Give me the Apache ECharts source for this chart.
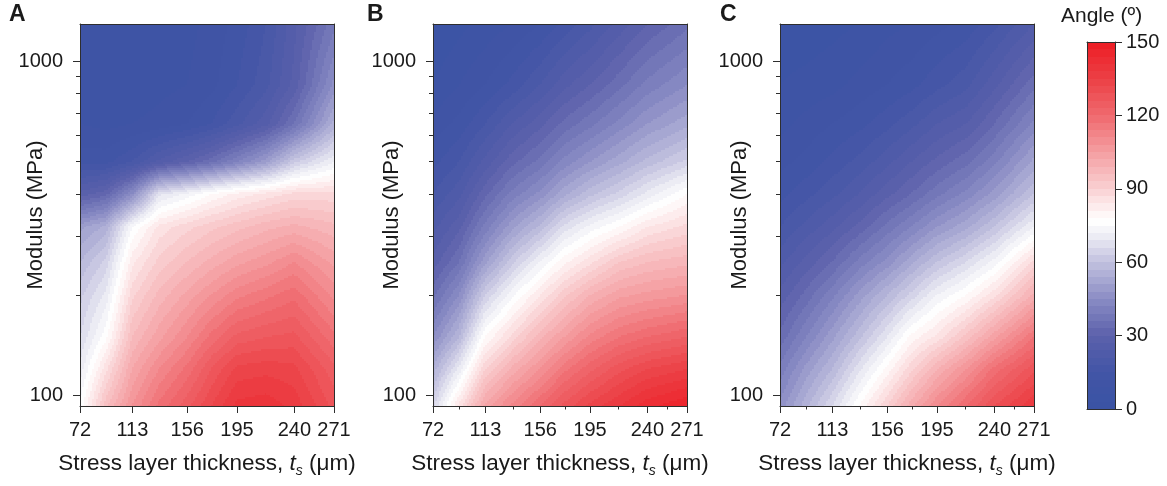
<!DOCTYPE html>
<html><head><meta charset="utf-8">
<script src="https://cdn.jsdelivr.net/npm/echarts@6/dist/echarts.min.js"></script>
<style>html,body{margin:0;padding:0;background:#fff}#c{width:1167px;height:486px}</style>
</head><body><div id="c"></div>
<script>
// ---- data ----
const thickness = [72, 92, 113, 134, 156, 175, 195, 218, 240, 271];      // µm (columns)
const modulus = [93, 120, 150, 200, 250, 320, 400, 500, 650, 850, 1290];  // MPa (rows, bottom -> top)
const xTickLabels = [72, 113, 156, 195, 240, 271];
const xMinorTicks = [92.5, 134.5, 175.5, 217.5, 255.5];
const yTickLabels = [100, 1000];
const yMinorTicks = [200, 300, 400, 500, 600, 700, 800, 900];
const angleTicks = [0, 30, 60, 90, 120, 150];
// angle (deg): one line per thickness, values along modulus rows
const angleA = [
  [76, 70, 66, 62, 57, 50, 28, 14, 9, 7, 7],
  [95, 86, 77, 70, 64, 55, 32, 14, 8, 7, 6],
  [108, 102, 96, 89, 83, 75, 45, 18, 9, 7, 6],
  [118, 111, 104, 97, 91, 85, 68, 25, 10, 8, 7],
  [125, 118, 111, 103, 96, 89, 73, 30, 12, 9, 8],
  [132, 126, 118, 108, 100, 92, 78, 35, 15, 11, 10],
  [139, 133, 124, 113, 104, 95, 82, 42, 20, 15, 13],
  [140, 134, 126, 116, 107, 98, 85, 50, 26, 20, 18],
  [137, 133, 127, 119, 111, 100, 88, 62, 36, 28, 26],
  [128, 124, 118, 110, 104, 97, 88, 72, 55, 46, 38]
];
const angleB = [
  [65, 55, 45, 35, 28, 23, 18, 14, 10, 6, 3],
  [85, 70, 57, 45, 36, 29, 23, 18, 13, 9, 5],
  [103, 90, 78, 63, 50, 40, 32, 25, 18, 12, 7],
  [112, 100, 88, 74, 62, 50, 40, 32, 24, 16, 9],
  [120, 108, 98, 84, 72, 58, 46, 37, 29, 21, 12],
  [127, 116, 105, 92, 80, 67, 53, 43, 34, 26, 16],
  [133, 122, 112, 99, 86, 73, 59, 48, 38, 30, 20],
  [138, 128, 117, 104, 93, 78, 64, 53, 43, 35, 25],
  [143, 132, 120, 106, 96, 84, 70, 58, 48, 40, 30],
  [147, 135, 123, 108, 98, 88, 78, 64, 53, 45, 35]
];
const angleC = [
  [46, 40, 34, 28, 23, 18, 14, 11, 8, 6, 4],
  [56, 49, 42, 34, 28, 22, 17, 13, 10, 7, 4],
  [66, 57, 50, 41, 33, 26, 20, 16, 12, 8, 5],
  [78, 68, 59, 49, 40, 31, 24, 19, 14, 10, 6],
  [90, 79, 69, 57, 46, 37, 29, 23, 17, 12, 8],
  [101, 89, 79, 64, 53, 42, 33, 27, 20, 14, 9],
  [111, 99, 85, 72, 60, 48, 38, 31, 24, 17, 11],
  [120, 108, 94, 78, 66, 53, 43, 35, 27, 20, 13],
  [129, 118, 104, 86, 73, 60, 49, 41, 33, 26, 17],
  [138, 128, 117, 100, 88, 72, 60, 52, 43, 35, 24]
];

// ---- colour scale (blue-white-red, 3 deg contour levels) ----
const colorStops = [[0,[58,83,164]],[15,[66,85,166]],[30,[92,97,171]],[45,[138,140,196]],[60,[194,193,223]],
  [70,[234,234,243]],[77,[255,255,255]],[85,[252,228,229]],[90,[249,208,210]],[105,[244,158,161]],
  [120,[239,105,110]],[135,[236,64,69]],[150,[237,28,36]]];
function cmap(v) {
  for (let k = 1; k < colorStops.length; k++) {
    if (v <= colorStops[k][0]) {
      const a = colorStops[k-1][0], ca = colorStops[k-1][1], b = colorStops[k][0], cb = colorStops[k][1];
      const t = (v - a) / (b - a);
      return 'rgb(' + ca.map((c, i) => Math.round(c + (cb[i] - c) * t)).join(',') + ')';
    }
  }
  return 'rgb(237,28,36)';
}
const BAND = 3, NB = 50;
const bandColors = [];
for (let i = 0; i < NB; i++) bandColors.push(cmap((i + 0.5) * BAND));
const colorbarBands = [];
for (let i = 0; i < NB; i++) colorbarBands.push([0, i * BAND, 1, (i + 1) * BAND]);

function makeCells(field) {
  const cells = [];
  for (let i = 0; i < thickness.length - 1; i++)
    for (let j = 0; j < modulus.length - 1; j++)
      cells.push([thickness[i], modulus[j], thickness[i+1], modulus[j+1],
                  field[i][j], field[i+1][j], field[i][j+1], field[i+1][j+1]]);
  return cells;
}
function bandOf(v) { return Math.max(0, Math.min(NB - 1, Math.floor(v / BAND))); }
function renderField(params, api) {
  const pA = api.coord([api.value(0), api.value(1)]);
  const pB = api.coord([api.value(2), api.value(3)]);
  const v00 = api.value(4), v10 = api.value(5), v01 = api.value(6), v11 = api.value(7);
  const L = Math.round(pA[0]), R = Math.round(pB[0]), B = Math.round(pA[1]), T = Math.round(pB[1]);
  const children = [];
  const step = 2;
  const mk = (x, y, w, h, b) => ({type: 'rect', shape: {x: x, y: y, width: w, height: h}, style: {fill: bandColors[b]}});
  for (let py = T; py < B; py += step) {
    const h = Math.min(step, B - py);
    const fy = (B - (py + h / 2)) / (B - T);
    let runStart = L, runBand = null;
    for (let px = L; px < R; px += step) {
      const w = Math.min(step, R - px);
      const fx = (px + w / 2 - L) / (R - L);
      const v = v00 * (1 - fx) * (1 - fy) + v10 * fx * (1 - fy) + v01 * (1 - fx) * fy + v11 * fx * fy;
      const b = bandOf(v);
      if (b !== runBand) {
        if (runBand !== null) children.push(mk(runStart, py, px - runStart, h, runBand));
        runStart = px; runBand = b;
      }
    }
    children.push(mk(runStart, py, R - runStart, h, runBand));
  }
  return {type: 'group', children: children};
}
function renderBand(params, api) {
  const p0 = api.coord([api.value(0), api.value(1)]);
  const p1 = api.coord([api.value(2), api.value(3)]);
  const top = Math.round(p1[1]), bot = Math.round(p0[1]);
  return {type: 'rect', shape: {x: p0[0], y: top, width: p1[0] - p0[0], height: bot - top},
          style: {fill: bandColors[Math.round(api.value(1) / BAND)]}};
}

// ---- layout ----
const FONT = "'Liberation Sans', Arial, Helvetica, sans-serif";
const INK = '#1a1a1a', LINE = '#2e2e2e';
const panels = [
  {letter: 'A', left: 80, field: angleA, minor: false, letterLeft: 9, nameGap: 33},
  {letter: 'B', left: 433, field: angleB, minor: true, letterLeft: 367, nameGap: 30},
  {letter: 'C', left: 780, field: angleC, minor: true, letterLeft: 720, nameGap: 29}
];
const grid = [], xAxis = [], yAxis = [], series = [], title = [];
const lineOnly = {show: true, onZero: false, lineStyle: {color: LINE, width: 1}};
panels.forEach((p, gi) => {
  grid.push({left: p.left, top: 24, width: 254, height: 382});
  const xi = xAxis.length;
  xAxis.push({gridIndex: gi, type: 'value', min: 72, max: 271, position: 'bottom', z: 5,
    axisLine: lineOnly,
    axisTick: {show: true, length: 7, customValues: xTickLabels, lineStyle: {color: LINE}},
    axisLabel: {customValues: xTickLabels, fontSize: 20, color: INK, margin: 14, fontFamily: FONT},
    splitLine: {show: false},
    name: '{n|Stress layer thickness, }{i|t}{s|s}{n| (μm)}', nameLocation: 'middle', nameGap: 44,
    nameTextStyle: {fontFamily: FONT, fontSize: 22.5, color: INK, rich: {
      n: {fontFamily: FONT, fontSize: 22.5, color: INK},
      i: {fontFamily: FONT, fontSize: 22.5, color: INK, fontStyle: 'italic'},
      s: {fontFamily: FONT, fontSize: 14, color: INK, fontStyle: 'italic', padding: [14, 0, 0, 0]}
    }}
  });
  if (p.minor) xAxis.push({gridIndex: gi, type: 'value', min: 72, max: 271, position: 'bottom', z: 5,
    axisLine: {show: false}, axisTick: {show: true, length: 3.5, customValues: xMinorTicks, lineStyle: {color: LINE}},
    axisLabel: {show: false}, splitLine: {show: false}});
  xAxis.push({gridIndex: gi, type: 'value', min: 72, max: 271, position: 'top', z: 5,
    axisLine: lineOnly, axisTick: {show: false}, axisLabel: {show: false}, splitLine: {show: false}});
  const yi = yAxis.length;
  yAxis.push({gridIndex: gi, type: 'log', logBase: 10, min: 93, max: 1290, position: 'left', z: 5,
    axisLine: lineOnly,
    axisTick: {show: true, length: 7, customValues: yTickLabels, lineStyle: {color: LINE}},
    axisLabel: {customValues: yTickLabels, fontSize: 20, color: INK, margin: 17, fontFamily: FONT,
      formatter: v => String(Math.round(v))},
    splitLine: {show: false},
    name: 'Modulus (MPa)', nameLocation: 'middle', nameGap: p.nameGap, nameMoveOverlap: false,
    nameTextStyle: {fontFamily: FONT, fontSize: 22, color: INK}
  });
  yAxis.push({gridIndex: gi, type: 'log', logBase: 10, min: 93, max: 1290, position: 'left', z: 5,
    axisLine: {show: false}, axisTick: {show: true, length: 4, customValues: yMinorTicks, lineStyle: {color: LINE}},
    axisLabel: {show: false}, splitLine: {show: false}});
  yAxis.push({gridIndex: gi, type: 'log', logBase: 10, min: 93, max: 1290, position: 'right', z: 5,
    axisLine: lineOnly, axisTick: {show: false}, axisLabel: {show: false}, splitLine: {show: false}});
  series.push({type: 'custom', xAxisIndex: xi, yAxisIndex: yi, renderItem: renderField,
    data: makeCells(p.field), encode: {x: [0, 2], y: [1, 3]}, silent: true, clip: true, z: 1, animation: false});
  title.push({text: p.letter, left: p.letterLeft, top: 3, padding: 0,
    textStyle: {fontFamily: FONT, fontSize: 23, fontWeight: 'bold', color: INK}});
});
// colour bar
const cg = grid.length;
grid.push({left: 1087, top: 42, width: 28, height: 367});
const cxi = xAxis.length;
xAxis.push({gridIndex: cg, type: 'value', min: 0, max: 1, position: 'bottom', z: 5,
  axisLine: lineOnly, axisTick: {show: false}, axisLabel: {show: false}, splitLine: {show: false}});
xAxis.push({gridIndex: cg, type: 'value', min: 0, max: 1, position: 'top', z: 5,
  axisLine: lineOnly, axisTick: {show: false}, axisLabel: {show: false}, splitLine: {show: false}});
const cyi = yAxis.length;
yAxis.push({gridIndex: cg, type: 'value', min: 0, max: 150, position: 'right', z: 5,
  axisLine: lineOnly,
  axisTick: {show: true, length: 7, customValues: angleTicks, lineStyle: {color: LINE}},
  axisLabel: {customValues: angleTicks, fontSize: 20, color: INK, margin: 11, fontFamily: FONT},
  splitLine: {show: false}});
yAxis.push({gridIndex: cg, type: 'value', min: 0, max: 150, position: 'left', z: 5,
  axisLine: lineOnly, axisTick: {show: false}, axisLabel: {show: false}, splitLine: {show: false}});
series.push({type: 'custom', xAxisIndex: cxi, yAxisIndex: cyi, renderItem: renderBand,
  data: colorbarBands, encode: {x: [0, 2], y: [1, 3]}, silent: true, z: 1, animation: false});
title.push({text: 'Angle (º)', left: 1061, top: 6, padding: 0,
  textStyle: {fontFamily: FONT, fontSize: 21, fontWeight: 'normal', color: INK}});

const chart = echarts.init(document.getElementById('c'), null, {renderer: 'canvas'});
chart.setOption({animation: false, backgroundColor: '#fff', title: title, grid: grid,
  xAxis: xAxis, yAxis: yAxis, series: series});
</script></body></html>
